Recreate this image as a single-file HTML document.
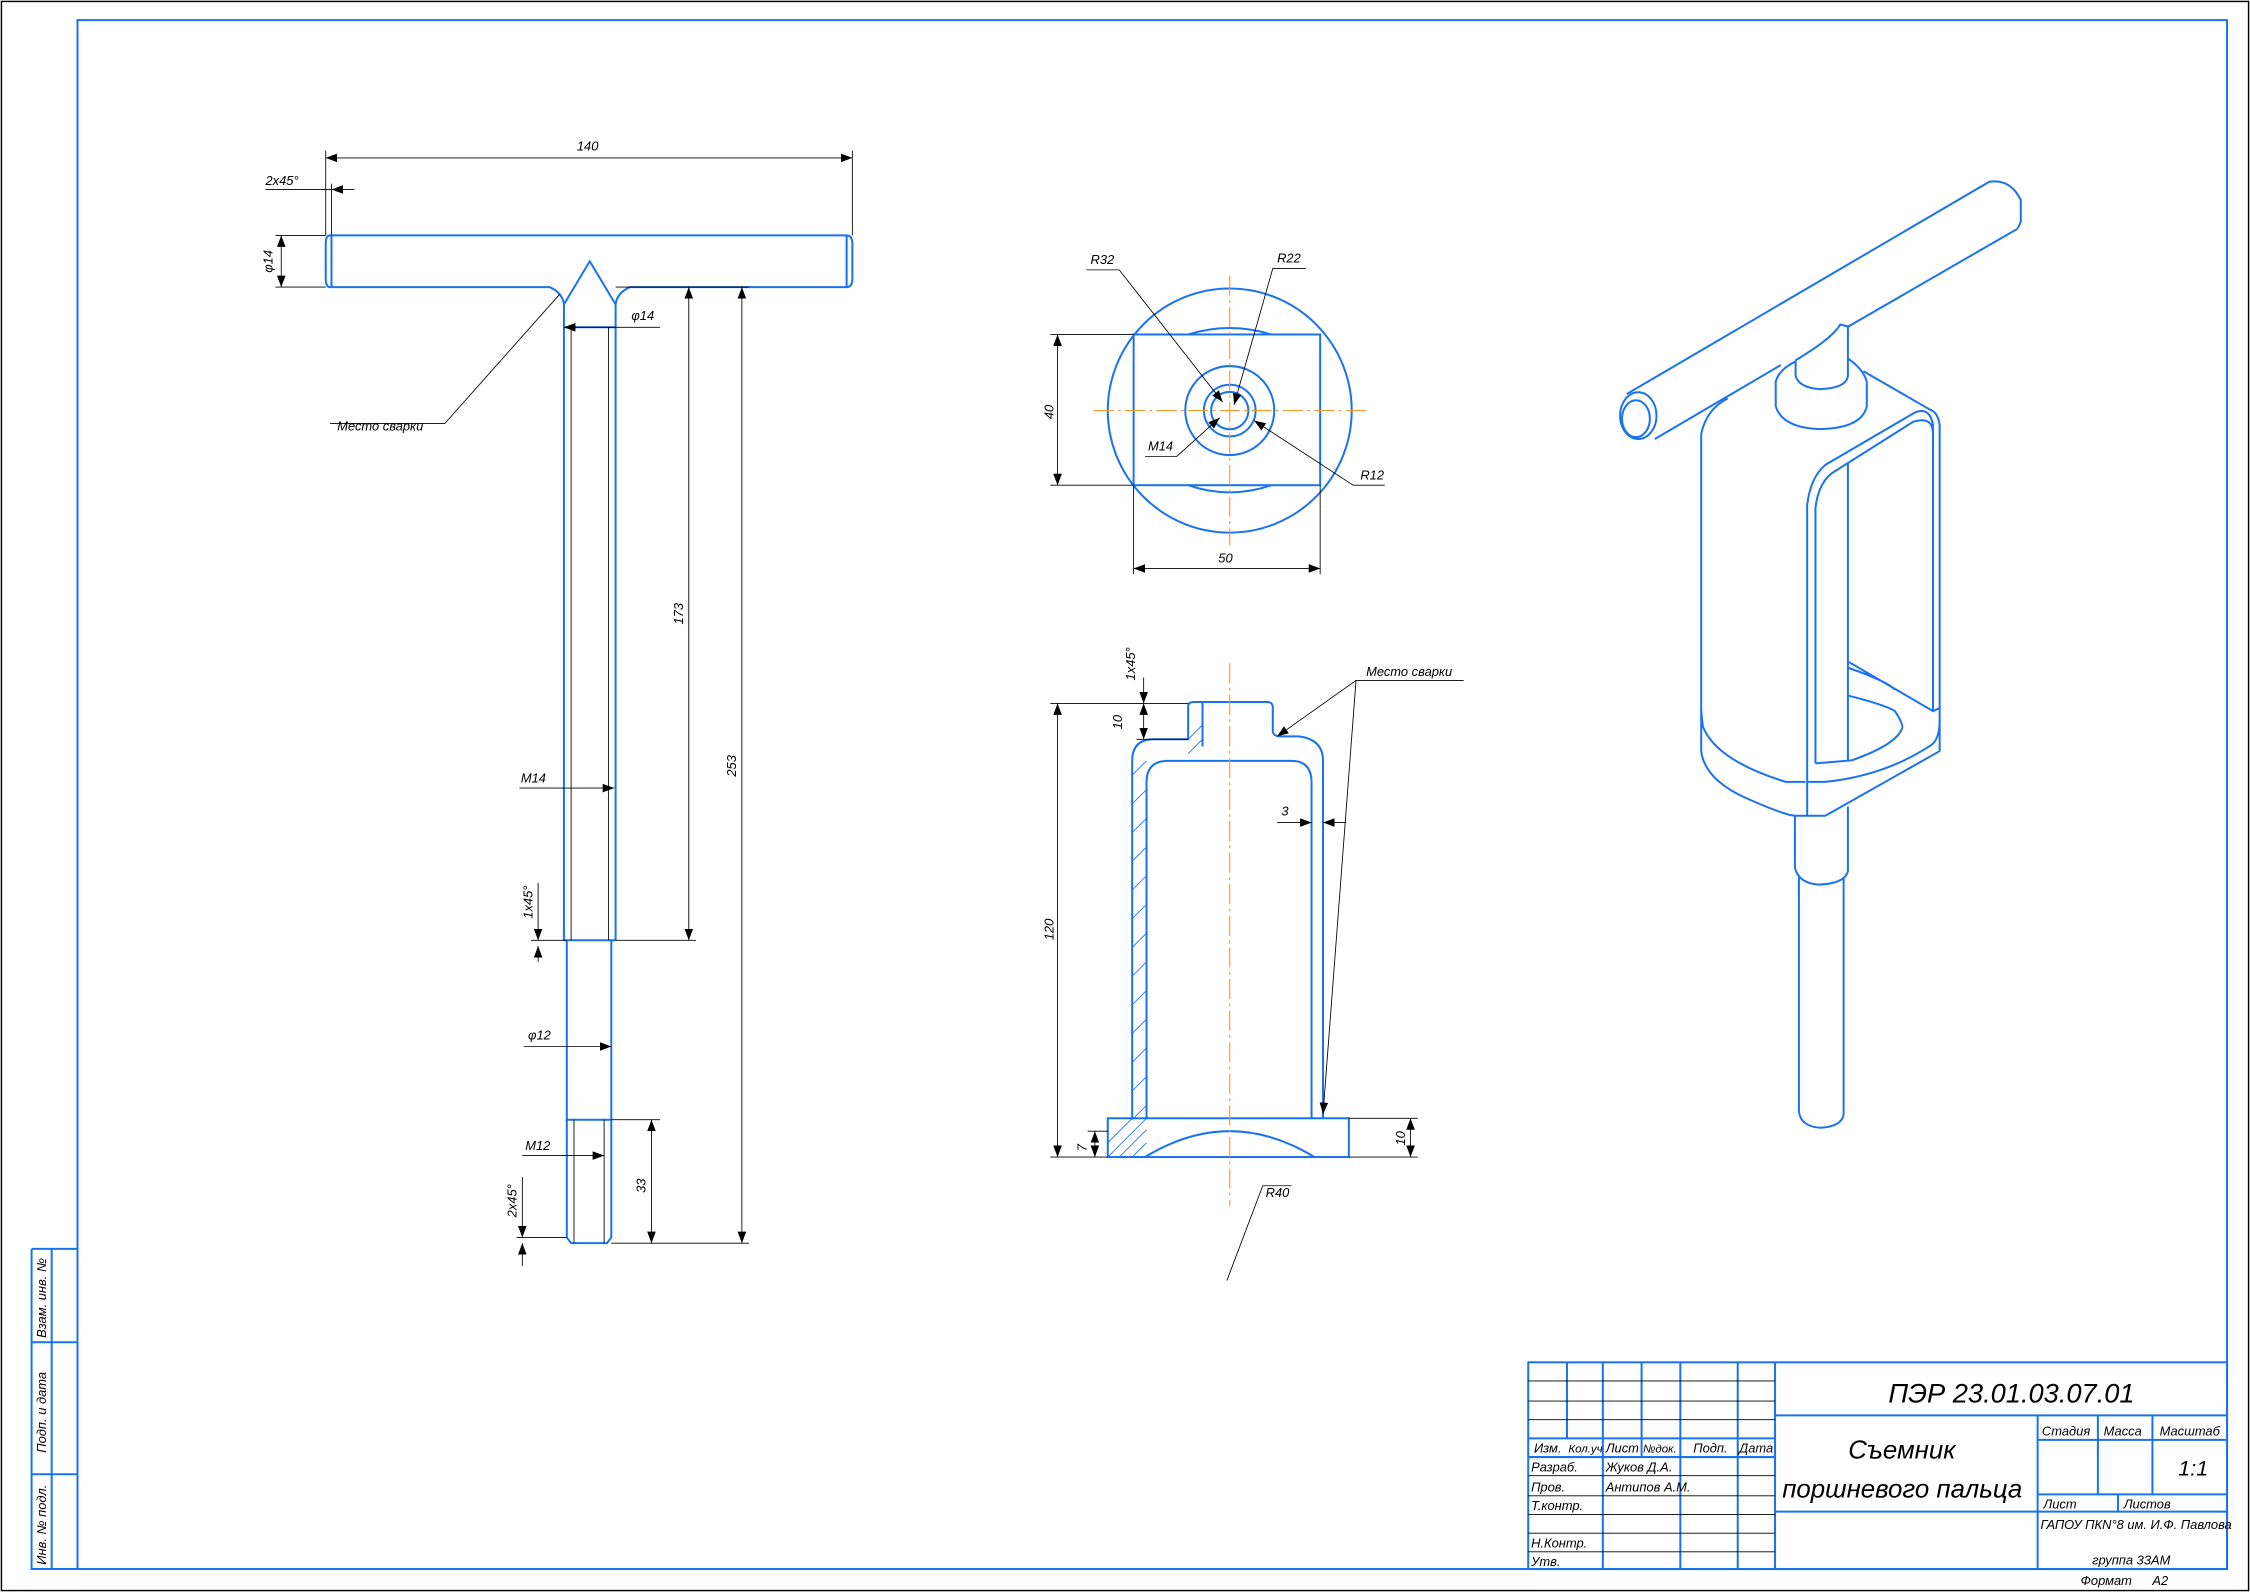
<!DOCTYPE html>
<html><head><meta charset="utf-8"><style>
html,body{margin:0;padding:0;background:#fff}
svg{display:block}
text{font-family:"Liberation Sans",sans-serif;font-style:italic;fill:#000}
.b{stroke:#1a73ee;stroke-width:1.4;fill:none}
.k{stroke:#000;stroke-width:0.6;fill:none}
.o{stroke:#f39a2c;stroke-width:0.8;fill:none;stroke-dasharray:14 3 2 3}
.h{stroke:#1a73ee;stroke-width:0.6}
.n{vector-effect:non-scaling-stroke;stroke:#1a73ee;stroke-width:2;fill:none}
</style></head><body>
<svg width="2250" height="1592" viewBox="0 0 1568 1109" preserveAspectRatio="none" xmlns="http://www.w3.org/2000/svg">
<defs><marker id="a" markerWidth="8" markerHeight="6" refX="8" refY="3" orient="auto-start-reverse" markerUnits="userSpaceOnUse"><path d="M0,0 L8,3 L0,6 z" fill="#000"/></marker></defs>
<rect x="1" y="1" width="1566" height="1107" fill="none" stroke="#000" stroke-width="1"/>
<rect x="54" y="14" width="1498" height="1079" class="b"/>
<g class="b"><path d="M22,870 H54 M22,870 V1093 H54 M36,870 V1093 M22,935 H54 M22,1027 H54"/></g>
<text transform="translate(32,932) rotate(-90)" font-size="9">Взам. инв. №</text>
<text transform="translate(32,1012) rotate(-90)" font-size="9">Подп. и дата</text>
<text transform="translate(32,1090) rotate(-90)" font-size="9">Инв. № подл.</text>

<g class="b">
<rect x="1065" y="949" width="487" height="144"/>
<path d="M1092,949 V1002 M1117,949 V1015 M1144,949 V1015 M1171,949 V1093 M1211,949 V1093 M1237,949 V1093 M1117,1015 V1093 M1065,1002 H1237 M1065,1015 H1237 M1237,986 H1552 M1237,1053 H1552 M1420,986 V1093 M1420,1003 H1552 M1420,1041 H1552 M1462,986 V1041 M1500,986 V1041 M1476,1041 V1053"/>
</g>
<g class="k"><path d="M1065,962 H1237 M1065,976 H1237 M1065,989 H1237 M1065,1028 H1237 M1065,1042 H1237 M1065,1055 H1237 M1065,1068 H1237 M1065,1081 H1237"/></g>
<g font-size="9">
<text x="1069" y="1012">Изм.</text><text x="1093" y="1012" font-size="8">Кол.уч</text><text x="1119" y="1012">Лист</text><text x="1145" y="1012" font-size="8">№док.</text><text x="1180" y="1012">Подп.</text><text x="1212" y="1012">Дата</text>
<text x="1067" y="1025">Разраб.</text><text x="1119" y="1025">Жуков Д.А.</text>
<text x="1067" y="1039">Пров.</text><text x="1119" y="1039">Антипов А.М.</text>
<text x="1067" y="1052">Т.контр.</text>
<text x="1067" y="1078">Н.Контр.</text><text x="1067" y="1091">Утв.</text>
<text x="1423" y="1000">Стадия</text><text x="1466" y="1000">Масса</text><text x="1505" y="1000">Масштаб</text>
<text x="1424" y="1051">Лист</text><text x="1480" y="1051">Листов</text>
<text x="1422" y="1065">ГАПОУ ПКN°8 им. И.Ф. Павлова</text>
<text x="1458" y="1090">группа 33АМ</text>
<text x="1450" y="1104">Формат</text><text x="1500" y="1104">А2</text>
</g>
<text x="1316" y="977" font-size="19">ПЭР 23.01.03.07.01</text>
<text x="1288" y="1016" font-size="18">Съемник</text>
<text x="1242" y="1043" font-size="18">поршневого пальца</text>
<text x="1518" y="1028" font-size="15">1:1</text>

<g class="b">
<path d="M230,164 H590 Q594,164 594,170 V194 Q594,200 590,200 H439 Q430,204 429,212 L411,182 L393,212 Q392,204 383,200 H230 Q227,200 227,194 V170 Q227,164 230,164 Z"/>
<path d="M231,164 V200 M590,164 V200"/>
<path d="M393,212 V655 M429,212 V655 M393,228 H429 M393,655 H429"/>
<path d="M395,655 V862 L398,866 H423 L426,862 V655 M395,780 H426"/>
</g>
<g class="k"><path d="M398,228 V655 M424,228 V655 M400,780 V866 M421,780 V866"/></g>
<g class="k">
<path d="M227,105 V164 M594,105 V164"/><path d="M227,110 H594" marker-start="url(#a)" marker-end="url(#a)"/>
<path d="M231,128 V164"/><path d="M185,132 H231" /><path d="M247,132 H231" marker-end="url(#a)"/>
<path d="M192,164 H227 M192,200 H227"/><path d="M196,164 V200" marker-start="url(#a)" marker-end="url(#a)"/>
<path d="M390,205 L310,295 H230"/>
<path d="M393,228 H460" marker-start="url(#a)"/>
<path d="M429,200 H485 M429,655 H485"/><path d="M480,200 V655" marker-start="url(#a)" marker-end="url(#a)"/>
<path d="M485,200 H522 M426,866 H522"/><path d="M517,200 V866" marker-start="url(#a)" marker-end="url(#a)"/>
<path d="M362,549 H428" marker-end="url(#a)"/>
<path d="M370,655 H395"/><path d="M375,615 V655" marker-end="url(#a)"/><path d="M375,670 V659" marker-end="url(#a)"/>
<path d="M365,729 H426" marker-end="url(#a)"/>
<path d="M364,805 H421" marker-end="url(#a)"/>
<path d="M426,780 H460"/><path d="M454,780 V866" marker-start="url(#a)" marker-end="url(#a)"/>
<path d="M360,862 H395"/><path d="M364,820 V862" marker-end="url(#a)"/><path d="M364,882 V866" marker-end="url(#a)"/>
</g>
<g font-size="9">
<text x="402" y="105">140</text><text x="185" y="129">2x45°</text>
<text transform="translate(190,190) rotate(-90)">φ14</text>
<text x="235" y="300">Место сварки</text><text x="440" y="223">φ14</text>
<text transform="translate(476,435) rotate(-90)">173</text>
<text transform="translate(513,541) rotate(-90)">253</text>
<text x="363" y="545">M14</text>
<text transform="translate(371,640) rotate(-90)">1x45°</text>
<text x="368" y="724">φ12</text><text x="366" y="801">M12</text>
<text transform="translate(450,831) rotate(-90)">33</text>
<text transform="translate(360,848) rotate(-90)">2x45°</text>
</g>

<g class="b">
<circle cx="857" cy="286" r="85"/>
<rect x="790" y="233" width="130" height="105"/>
<circle cx="857" cy="286" r="31"/><circle cx="857" cy="286" r="18"/><circle cx="857" cy="286" r="13"/>
<path d="M828,233 Q857,224 886,233 M828,338 Q857,348 886,338"/>
</g>
<g class="o"><path d="M762,286 H952 M857,192 V380"/></g>
<g class="k">
<path d="M732,233 H790 M732,338 H790"/><path d="M737,233 V338" marker-start="url(#a)" marker-end="url(#a)"/>
<path d="M790,338 V400 M920,338 V400"/><path d="M790,396 H920" marker-start="url(#a)" marker-end="url(#a)"/>
<path d="M757,188 H780 L852,280" marker-end="url(#a)"/>
<path d="M910,187 H887 L860,282" marker-end="url(#a)"/>
<path d="M798,318 H820 L850,291" marker-end="url(#a)"/>
<path d="M965,338 H943 L874,293" marker-end="url(#a)"/>
</g>
<g font-size="9">
<text x="760" y="184">R32</text><text x="890" y="183">R22</text><text x="800" y="314">M14</text><text x="948" y="334">R12</text>
<text transform="translate(734,292) rotate(-90)">40</text><text x="849" y="392">50</text>
</g>

<g class="b">
<path d="M789,779 V530 Q789,515 804,515 H828 V492 Q828,489 832,489 H883 Q887,489 887,493 V510 Q888,513 892,513 H905 Q922,515 922,530 V779"/>
<path d="M799,779 V545 Q799,530 814,530 H900 Q914,530 914,545 V779"/>
<path d="M838,489 V520"/>
<rect x="772" y="779" width="168" height="27"/>
<path d="M798,806 Q857,770 916,806"/>
</g>
<g class="h">
<path d="M789,540 L799,530 M789,560 L799,550 M789,580 L799,570 M789,600 L799,590 M789,620 L799,610 M789,640 L799,630 M789,660 L799,650 M789,680 L799,670 M789,700 L799,690 M789,720 L799,710 M789,740 L799,730 M789,760 L799,750 M789,780 L799,770 M828,515 L838,505 M828,525 L838,515 M772,806 L799,779 M780,806 L799,787 M772,796 L789,779 M789,806 L799,796"/>
</g>
<g class="o"><path d="M857,462 V840"/></g>
<g class="k">
<path d="M732,490 H828 M732,806 H772"/><path d="M737,490 V806" marker-start="url(#a)" marker-end="url(#a)"/>
<path d="M792,515 H828"/><path d="M797,490 V515" marker-start="url(#a)" marker-end="url(#a)"/>
<path d="M797,472 V490" marker-end="url(#a)"/>
<path d="M758,788 H772"/><path d="M763,788 V806" marker-start="url(#a)" marker-end="url(#a)"/>
<path d="M940,779 H988 M940,806 H988"/><path d="M983,779 V806" marker-start="url(#a)" marker-end="url(#a)"/>
<path d="M890,573 H914" marker-end="url(#a)"/><path d="M938,573 H922" marker-end="url(#a)"/>
<path d="M1020,474 H945 L890,513" marker-end="url(#a)"/><path d="M945,474 L922,776" marker-end="url(#a)"/>
<path d="M855,892 L880,826 H900"/>
</g>
<g font-size="9">
<text transform="translate(734,655) rotate(-90)">120</text>
<text transform="translate(782,508) rotate(-90)">10</text>
<text transform="translate(791,474) rotate(-90)">1x45°</text>
<text transform="translate(757,802) rotate(-90)">7</text>
<text transform="translate(979,798) rotate(-90)">10</text>
<text x="893" y="568">3</text><text x="952" y="471">Место сварки</text><text x="882" y="834">R40</text>
</g>

<g transform="translate(1129,118) scale(0.2308,0.4288)">
<path class="n" d="M20,365 L1115,20 Q1180,15 1210,50 L1210,85 Q1200,98 1195,98 L690,255 M485,318 L105,438"/>
<ellipse class="n" cx="55" cy="400" rx="55" ry="38"/>
<ellipse class="n" cx="48" cy="405" rx="42" ry="30"/>
<path class="n" d="M530,310 V335 Q540,355 605,357 Q685,355 688,335 V255 L665,252 Q640,275 530,310"/>
<path class="n" d="M530,312 Q480,325 470,345 V385 Q490,420 605,422 Q730,420 745,385 V345 Q735,325 690,308"/>
<path class="n" d="M325,372 Q260,390 245,430 V945 Q255,990 375,1020 Q500,1050 530,1050 H620 L965,945 V415 Q960,395 935,390 L735,328"/>
<path class="n" d="M245,880 L250,905 Q290,960 500,995 H560"/>
<path class="n" d="M565,1050 V545 Q575,500 620,480 L890,395 Q935,385 945,415 V880"/>
<path class="n" d="M590,965 V550 Q600,505 650,490 L885,410 Q945,400 945,430"/>
<path class="n" d="M688,478 V960"/>
<path class="n" d="M565,995 H620 Q800,985 940,935 Q965,925 965,895"/>
<path class="n" d="M690,800 L945,880 L965,875 M690,855 Q800,870 830,880 Q860,905 850,910 Q830,935 700,960 L590,965 M690,810 Q800,830 830,845"/>
<path class="n" d="M528,1050 V1135 Q540,1160 600,1162 Q680,1160 688,1140 V1035"/>
<path class="n" d="M540,1150 V1530 Q545,1555 605,1557 Q670,1555 675,1535 V1150"/>
</g>
</svg>
</body></html>
